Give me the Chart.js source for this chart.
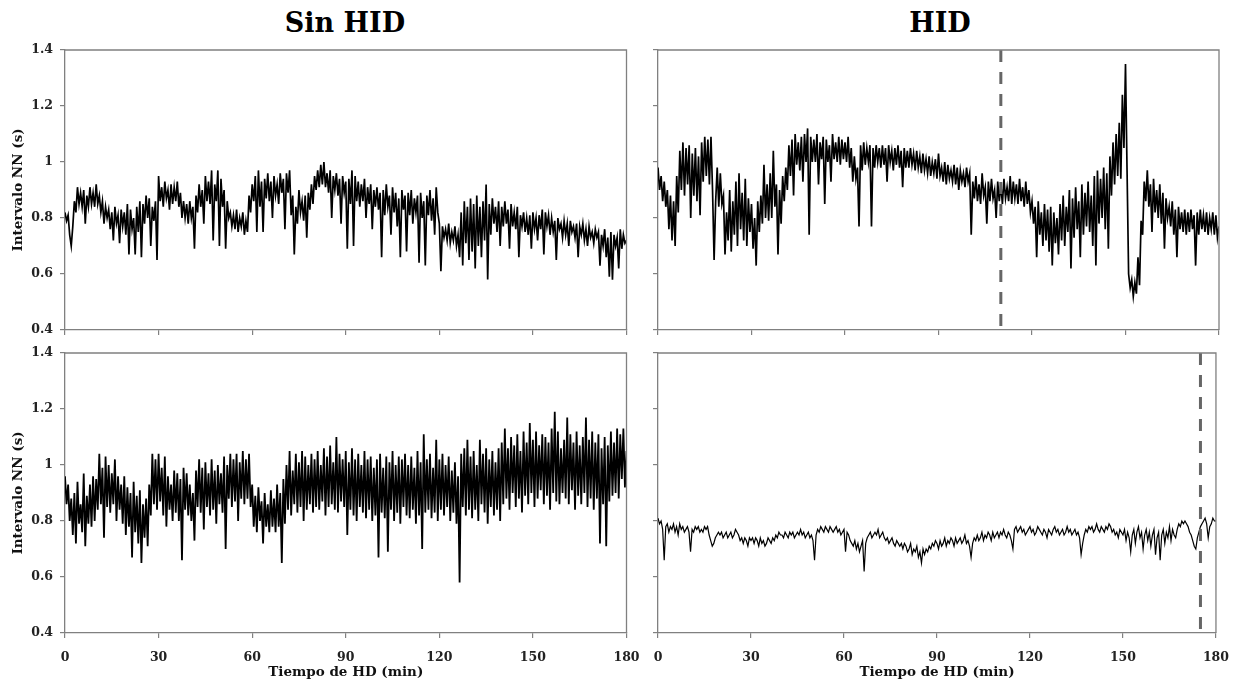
<!DOCTYPE html>
<html>
<head>
<meta charset="utf-8">
<script src="https://cdn.jsdelivr.net/npm/chart.js@4.4.1/dist/chart.umd.min.js"></script>
<style>
  body { margin: 0; background: #fff; }
  #fig { position: relative; width: 1241px; height: 686px; }
  .panel { position: absolute; left: 0; top: 0; width: 1241px; height: 686px; }
  .col-title { position: absolute; top: 9px; width: 400px; text-align: center;
    font: bold 27px "DejaVu Serif", serif; line-height: 1; color: #000; }
</style>
</head>
<body>
<div id="fig">
  <div class="col-title" style="left:145px">Sin HID</div>
  <div class="col-title" style="left:740px">HID</div>
  <div class="panel"><canvas id="chartTL"></canvas></div>
  <div class="panel"><canvas id="chartTR"></canvas></div>
  <div class="panel"><canvas id="chartBL"></canvas></div>
  <div class="panel"><canvas id="chartBR"></canvas></div>
</div>
<script>
// intervalos NN (s), una muestra cada 0.5 min
const tlNN = [
  .82,.79,.81,.74,.70,.77,.86,.82,.91,.85,.89,.84,.90,.78,.88,.84,.91,.85,.89,.84,
  .92,.85,.88,.82,.86,.78,.84,.80,.83,.76,.82,.72,.84,.78,.81,.71,.83,.77,.82,.74,
  .85,.67,.83,.76,.80,.67,.84,.75,.86,.66,.85,.78,.88,.80,.87,.70,.84,.79,.86,.65,
  .95,.86,.91,.84,.93,.87,.90,.83,.92,.85,.91,.86,.93,.84,.89,.80,.86,.80,.85,.78,
  .86,.80,.84,.69,.88,.82,.92,.84,.90,.78,.95,.86,.93,.85,.97,.72,.92,.86,.97,.70,
  .94,.84,.90,.69,.86,.80,.82,.77,.81,.76,.83,.75,.80,.77,.82,.74,.79,.75,.88,.82,
  .92,.86,.95,.75,.97,.84,.93,.75,.94,.87,.96,.86,.93,.80,.95,.88,.92,.85,.96,.89,
  .94,.76,.96,.89,.97,.81,.88,.67,.84,.78,.90,.82,.86,.79,.88,.73,.89,.83,.92,.85,
  .95,.90,.97,.91,.99,.92,1.0,.91,.96,.89,.97,.80,.95,.90,.96,.88,.94,.78,.95,.89,
  .93,.69,.94,.85,.97,.70,.95,.86,.93,.84,.92,.86,.94,.80,.91,.85,.92,.76,.90,.84,
  .91,.83,.89,.66,.90,.81,.92,.84,.88,.74,.91,.82,.89,.77,.87,.66,.90,.83,.88,.68,
  .89,.81,.90,.78,.87,.82,.88,.64,.89,.80,.86,.63,.88,.81,.90,.79,.87,.74,.91,.82,
  .78,.61,.77,.73,.76,.72,.78,.71,.75,.72,.77,.70,.74,.66,.82,.63,.86,.71,.84,.65,
  .87,.68,.85,.62,.88,.70,.84,.66,.86,.72,.92,.58,.85,.74,.87,.78,.84,.75,.86,.70,
  .84,.77,.86,.78,.83,.69,.85,.77,.82,.76,.84,.66,.81,.77,.82,.75,.80,.74,.81,.69,
  .82,.76,.80,.72,.81,.76,.83,.67,.82,.77,.81,.74,.80,.75,.79,.65,.80,.76,.78,.73,
  .79,.74,.78,.70,.79,.75,.77,.73,.78,.66,.77,.74,.78,.72,.76,.70,.77,.73,.75,.71,
  .76,.73,.75,.63,.74,.70,.76,.66,.73,.59,.75,.58,.74,.70,.73,.62,.76,.69,.74,.71,
  .72
];
const trNN = [
  .98,.90,.95,.86,.93,.84,.90,.76,.88,.72,.86,.70,.95,.82,1.04,.90,1.07,.88,1.05,.92,
  1.06,.80,1.03,.88,1.05,.86,1.02,.81,1.07,.93,1.09,.95,1.08,.92,1.09,.90,.65,.86,.98,.84,
  .96,.85,.88,.67,.82,.72,.90,.68,.86,.74,.93,.70,.96,.76,.89,.72,.94,.70,.87,.75,
  .85,.69,.80,.63,.86,.75,.88,.78,.99,.80,.92,.79,.96,.80,1.04,.84,.92,.67,.90,.78,
  .95,.86,.98,.90,1.06,.95,1.08,.88,1.10,.99,1.07,.97,1.09,.93,1.10,1.00,1.12,.74,1.09,1.00,
  1.08,1.00,1.10,.92,1.07,1.01,1.09,.85,1.08,1.00,1.06,.93,1.10,1.01,1.07,1.00,1.09,.99,1.08,1.01,
  1.07,1.00,1.09,.98,1.05,.93,1.02,.94,.98,.77,1.06,.97,1.07,.99,1.05,1.00,1.06,.77,1.05,.98,
  1.06,1.00,1.05,.98,1.06,.99,1.05,.93,1.06,1.00,1.04,.97,1.05,.99,1.06,.98,1.04,.91,1.05,.98,
  1.04,.98,1.05,.99,1.03,.97,1.04,.98,1.02,.96,1.03,.97,1.01,.96,1.02,.95,1.00,.96,1.01,.94,
  1.03,.95,.98,.93,1.00,.92,.99,.94,.97,.93,.99,.92,.98,.90,.97,.93,.96,.91,.98,.93,
  .96,.74,.93,.87,.95,.86,.92,.85,.96,.88,.91,.78,.93,.86,.94,.87,.90,.80,.93,.86,
  .92,.85,.94,.87,.91,.86,.95,.85,.93,.87,.92,.85,.94,.86,.91,.84,.93,.85,.90,.82,
  .86,.78,.84,.66,.86,.74,.82,.70,.85,.72,.83,.68,.84,.63,.82,.71,.80,.67,.85,.72,
  .88,.70,.84,.75,.90,.62,.87,.73,.91,.76,.86,.66,.92,.74,.89,.77,.93,.75,.88,.70,
  .95,.63,.97,.78,.94,.80,.98,.76,.96,.69,1.02,.88,1.07,.92,1.10,.95,1.14,.94,1.24,1.05,
  1.35,.97,.60,.55,.58,.52,.57,.53,.66,.56,.79,.74,.93,.86,.97,.84,.92,.75,.94,.82,
  .90,.80,.92,.78,.89,.69,.87,.80,.84,.77,.86,.74,.83,.66,.84,.76,.82,.75,.83,.74,
  .82,.75,.83,.76,.81,.63,.82,.74,.83,.76,.81,.75,.82,.74,.80,.76,.82,.74,.81,.73,
  .77
];
const blNN = [
  .96,.86,.93,.80,.88,.75,.90,.72,.94,.79,.86,.76,.97,.71,.89,.79,.93,.78,.96,.80,
  .95,.84,1.04,.86,.99,.74,1.03,.85,1.00,.83,.97,.86,1.02,.80,.96,.84,.93,.79,.96,.75,
  .92,.78,.90,.67,.94,.76,.89,.72,.91,.65,.86,.74,.88,.71,.93,.82,1.04,.86,1.02,.84,
  1.04,.87,.99,.82,1.03,.78,.96,.84,.93,.80,.98,.83,.97,.80,.95,.66,.99,.84,.97,.82,
  .93,.80,.90,.73,.98,.85,1.02,.83,.99,.77,1.01,.85,.97,.82,1.02,.84,.98,.79,1.00,.86,
  .97,.83,1.03,.70,1.00,.88,1.04,.85,1.02,.87,1.04,.80,1.01,.88,1.05,.86,1.02,.88,1.04,.85,
  .93,.78,.89,.76,.92,.80,.87,.72,.90,.78,.86,.76,.91,.78,.88,.76,.93,.78,.90,.65,
  .95,.79,1.00,.84,1.05,.82,.98,.86,1.04,.83,1.01,.85,1.05,.80,1.03,.84,1.00,.86,1.04,.83,
  1.02,.85,1.05,.84,1.00,.87,1.06,.82,1.03,.85,1.07,.86,1.01,.84,1.10,.83,1.04,.87,1.02,.85,
  1.05,.75,1.01,.84,1.06,.82,1.02,.80,1.04,.85,1.00,.83,1.05,.81,1.02,.84,1.03,.80,.99,.82,
  1.02,.67,1.04,.83,.99,.81,1.03,.69,1.01,.84,1.05,.80,1.00,.83,1.03,.79,1.02,.85,1.04,.82,
  1.00,.81,1.03,.84,.99,.79,1.05,.82,1.01,.70,1.11,.83,1.02,.84,1.04,.81,.99,.83,1.09,.80,
  1.02,.84,1.04,.82,1.00,.85,1.03,.80,.98,.83,1.01,.79,.96,.58,1.04,.85,1.06,.82,1.09,.84,
  1.03,.81,1.05,.84,1.00,.80,1.09,.86,1.04,.83,1.06,.79,1.02,.85,1.05,.82,1.01,.84,1.06,.80,
  1.08,.86,1.13,.88,1.06,.84,1.10,.90,1.07,.85,1.11,.88,1.05,.83,1.12,.89,1.08,.86,1.15,.90,
  1.09,.85,1.12,.88,1.07,.91,1.11,.86,1.10,.89,1.08,.84,1.13,.90,1.19,.87,1.12,.86,1.06,.90,
  1.09,.88,1.17,.86,1.11,.91,1.08,.84,1.12,.89,1.07,.86,1.10,.90,1.17,.85,1.09,.88,1.12,.84,
  1.08,.88,1.11,.72,1.06,.86,1.10,.71,1.07,.87,1.12,.89,1.08,.90,1.13,.88,1.11,.95,1.13,.92,
  1.05
];
const brNN = [
  .81,.79,.80,.77,.66,.78,.79,.76,.78,.77,.79,.76,.78,.75,.79,.77,.78,.76,.77,.78,
  .76,.69,.77,.76,.78,.77,.78,.76,.77,.76,.78,.77,.78,.75,.73,.71,.72,.74,.75,.76,
  .75,.76,.74,.75,.76,.74,.75,.76,.74,.75,.77,.76,.75,.73,.74,.72,.74,.73,.71,.74,
  .73,.74,.72,.74,.73,.71,.74,.72,.73,.71,.72,.74,.73,.72,.74,.73,.75,.74,.76,.75,
  .75,.74,.76,.75,.74,.76,.75,.76,.74,.75,.76,.75,.77,.75,.76,.74,.75,.76,.74,.75,
  .73,.66,.75,.77,.76,.78,.77,.76,.78,.77,.76,.78,.77,.76,.77,.78,.76,.77,.75,.76,
  .77,.69,.76,.75,.73,.72,.71,.73,.70,.72,.69,.71,.73,.62,.72,.74,.75,.76,.74,.75,
  .76,.75,.77,.74,.75,.76,.74,.73,.74,.72,.73,.74,.72,.71,.73,.72,.71,.72,.70,.72,
  .71,.69,.70,.72,.68,.70,.69,.71,.67,.69,.65,.70,.68,.70,.69,.71,.70,.72,.71,.73,
  .72,.70,.73,.71,.72,.74,.71,.73,.72,.74,.73,.71,.74,.72,.73,.74,.72,.73,.75,.72,
  .73,.71,.67,.72,.74,.73,.75,.73,.74,.76,.73,.75,.74,.76,.75,.73,.76,.74,.75,.76,
  .74,.76,.75,.77,.75,.74,.76,.75,.73,.70,.77,.78,.76,.77,.78,.76,.77,.75,.76,.77,
  .78,.76,.77,.75,.76,.78,.77,.76,.75,.77,.76,.74,.77,.76,.75,.77,.78,.76,.77,.75,
  .76,.77,.75,.76,.78,.76,.77,.75,.76,.77,.75,.76,.74,.68,.72,.75,.77,.76,.78,.77,
  .78,.76,.77,.79,.77,.76,.78,.77,.76,.78,.77,.79,.78,.76,.77,.75,.76,.74,.77,.76,
  .75,.77,.73,.76,.74,.69,.75,.77,.72,.76,.78,.74,.76,.70,.75,.77,.73,.76,.71,.75,
  .77,.68,.74,.76,.66,.75,.77,.72,.76,.74,.78,.73,.77,.75,.74,.77,.79,.78,.80,.79,
  .80,.79,.78,.76,.75,.73,.71,.70,.74,.76,.78,.79,.80,.81,.79,.74,.78,.79,.81,.80,
  .80
];
// minuto en que aparece la HID (linea discontinua)
const hidTop = 110;
const hidBottom = 175;
const xTicks = [0, 30, 60, 90, 120, 150, 180];
const yTicks = [0.4, 0.6, 0.8, 1, 1.2, 1.4];

const tiempo = tlNN.map((v, i) => i * 0.5);

const ejeColor = '#808080';
const tickFont = { family: '"DejaVu Serif", serif', size: 12.5, weight: 'bold' };
const titleFont = { family: '"DejaVu Serif", serif', size: 13.5, weight: 'bold' };

// borde superior y derecho de cada panel
const marco = {
  id: 'marco',
  afterDraw(chart) {
    let a = chart.chartArea;
    let ctx = chart.ctx;
    ctx.save();
    ctx.strokeStyle = ejeColor;
    ctx.lineWidth = 1.3;
    ctx.beginPath();
    ctx.moveTo(a.left, a.top);
    ctx.lineTo(a.right, a.top);
    ctx.lineTo(a.right, a.bottom);
    ctx.stroke();
    ctx.restore();
  }
};

function makePanel(id, serie, box, showY, showX, hid, grosor) {
  const yW = showY ? 65 : 5;
  const xH = showX ? 48 : 5;

  let datasets = [{
    data: tiempo.map((t, i) => ({ x: t, y: serie[i] })),
    borderColor: '#000',
    borderWidth: grosor,
    pointRadius: 0,
    tension: 0,
    order: 1
  }];
  if (hid !== null) {
    datasets.push({
      data: [{ x: hid, y: yTicks[yTicks.length - 1] }, { x: hid, y: yTicks[0] }],
      borderColor: '#666',
      borderWidth: 3,
      borderDash: [12, 10],
      pointRadius: 0,
      order: 0
    });
  }

  return new Chart(document.getElementById(id), {
    type: 'line',
    data: { datasets: datasets },
    options: {
      responsive: true,
      maintainAspectRatio: false,
      animation: false,
      layout: {
        padding: { left: box.left - yW, top: box.top, right: 1241 - box.right, bottom: 686 - box.bottom - xH }
      },
      plugins: { legend: { display: false }, tooltip: { enabled: false } },
      scales: {
        x: {
          type: 'linear',
          min: xTicks[0],
          max: xTicks[xTicks.length - 1],
          afterFit: s => { s.height = xH; },
          afterBuildTicks: s => { s.ticks = xTicks.map(v => ({ value: v })); },
          ticks: { display: showX, autoSkip: false, maxRotation: 0, padding: 12, color: '#222', font: tickFont },
          grid: { drawOnChartArea: false, drawTicks: true, tickLength: 5, color: ejeColor, lineWidth: 1.2 },
          border: { color: ejeColor, width: 1.3 },
          title: { display: showX, text: 'Tiempo de HD (min)', color: '#111', font: titleFont, padding: { top: 0, bottom: 0 } }
        },
        y: {
          min: yTicks[0],
          max: yTicks[yTicks.length - 1],
          afterFit: s => { s.width = yW; },
          afterBuildTicks: s => { s.ticks = yTicks.map(v => ({ value: v })); },
          ticks: {
            display: showY, padding: 7, color: '#222', font: tickFont,
            callback: v => String(Math.round(v * 10) / 10)
          },
          grid: { drawOnChartArea: false, drawTicks: true, tickLength: 5, color: ejeColor, lineWidth: 1.2 },
          border: { color: ejeColor, width: 1.3 },
          title: { display: showY, text: 'Intervalo NN (s)', color: '#111', font: titleFont, padding: { top: 10.5, bottom: 0 } }
        }
      }
    },
    plugins: [marco]
  });
}

makePanel('chartTL', tlNN, { left: 65, right: 626.5, top: 50, bottom: 330 }, true, false, null, 1.7);
makePanel('chartTR', trNN, { left: 658, right: 1219, top: 50, bottom: 330 }, false, false, hidTop, 1.7);
makePanel('chartBL', blNN, { left: 65, right: 626.5, top: 353, bottom: 633 }, true, true, null, 1.8);
makePanel('chartBR', brNN, { left: 658, right: 1219, top: 353, bottom: 633 }, false, true, hidBottom, 1.2);
</script>
</body>
</html>
